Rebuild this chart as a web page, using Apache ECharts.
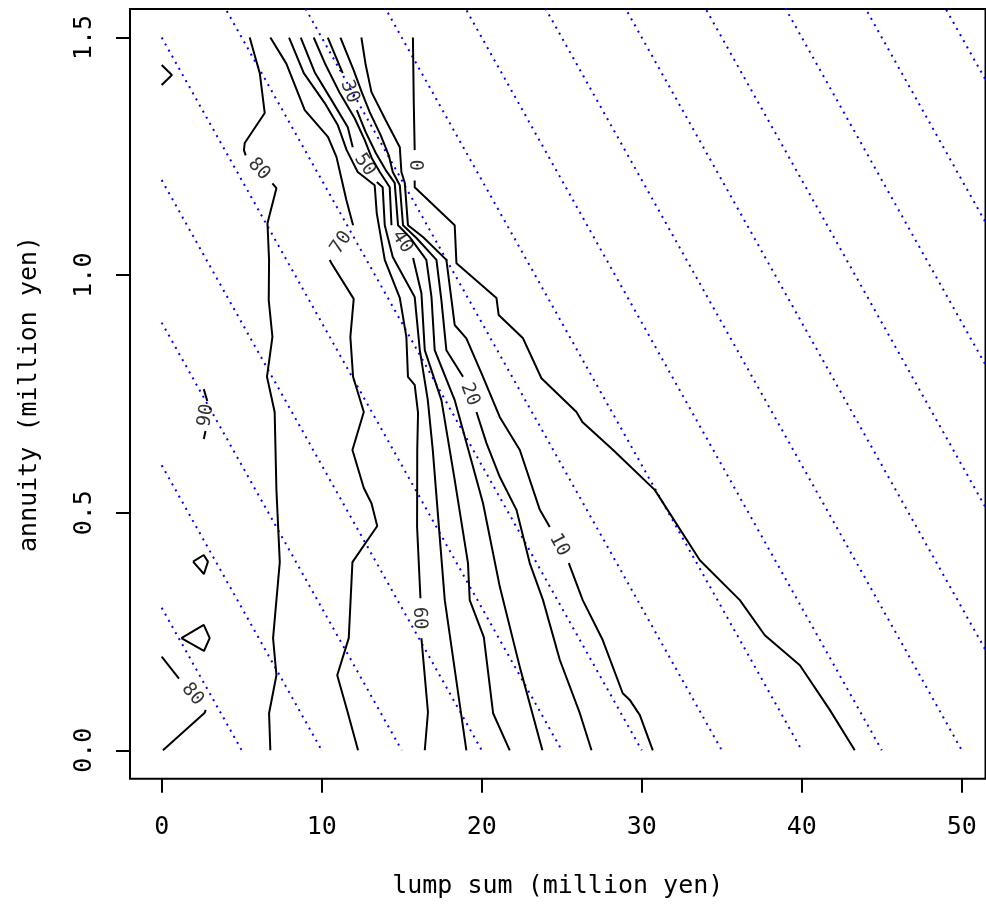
<!DOCTYPE html>
<html><head><meta charset="utf-8">
<script src="https://cdn.jsdelivr.net/npm/echarts@6/dist/echarts.min.js"></script>
<style>html,body{margin:0;padding:0;background:#fff}#c{width:986px;height:905px}</style>
</head><body><div id="c"></div>
<script>
// ---- tick labels / titles ----
const xTicks = [0, 10, 20, 30, 40, 50];
const yTicks = [0, 0.5, 1.0, 1.5];
const xTitle = 'lump sum (million yen)';
const yTitle = 'annuity (million yen)';

// ---- contour lines, each level = list of segments [x, y] ----
const contour0 = [
  [[15.7,1.50],[15.75,1.368],[15.81,1.263]],
  [[15.81,1.199],[15.81,1.185],[18.31,1.105],[18.42,1.025],[20.92,0.952],[21.06,0.916],[22.58,0.867],[23.73,0.783],[25.92,0.712],[26.29,0.691],[28.21,0.632],[30.81,0.548],[33.63,0.400],[36.13,0.316],[37.69,0.242],[39.88,0.179],[41.75,0.085],[43.31,0]]
];
const contour10 = [
  [[12.48,1.50],[12.75,1.442],[13.11,1.385],[14.0,1.326],[14.88,1.269],[14.98,1.217],[15.19,1.194],[15.39,1.105],[16.33,1.080],[17.79,1.032],[18.31,0.895],[19.04,0.867],[20.08,0.786],[21.13,0.701],[22.38,0.632],[23.63,0.506],[24.25,0.470]],
  [[25.44,0.394],[26.31,0.316],[27.56,0.232],[28.81,0.120],[29.25,0.106],[29.88,0.074],[30.69,0]]
];
const contour20 = [
  [[11.17,1.50],[12.0,1.431],[12.5,1.385],[13.0,1.343],[13.69,1.294],[14.19,1.252],[14.44,1.217],[14.88,1.189],[15.08,1.105],[15.92,1.078],[17.17,1.032],[17.48,0.947],[17.79,0.842],[18.83,0.786]],
  [[19.67,0.712],[20.29,0.647],[21.13,0.575],[22.17,0.506],[23.0,0.394],[23.83,0.316],[24.88,0.190],[26.13,0.078],[26.86,0]]
];
const contour30 = [
  [[10.38,1.50],[11.31,1.425]],
  [[12.19,1.347],[12.75,1.301],[13.38,1.257],[14.0,1.221],[14.56,1.194],[14.77,1.105],[15.5,1.080],[16.54,1.032],[16.86,0.954],[17.06,0.842],[18.31,0.737],[20.08,0.520],[21.13,0.344],[22.38,0.175],[23.79,0]]
];
const contour40 = [
  [[9.5,1.50],[10.25,1.442],[11.13,1.383],[12.06,1.330],[12.69,1.284],[13.13,1.246],[13.63,1.217],[14.25,1.185],[14.36,1.105]],
  [[15.71,1.036],[16.23,0.962],[16.44,0.842],[17.48,0.737],[18.31,0.569],[19.14,0.394],[19.25,0.316],[20.13,0.238],[20.71,0.078],[21.75,0]]
];
const contour50 = [
  [[8.69,1.50],[9.56,1.427],[10.69,1.364],[11.63,1.311],[11.94,1.269]],
  [[13.44,1.196],[13.81,1.185],[13.94,1.105],[14.44,1.038],[15.81,0.954],[16.13,0.842],[16.63,0.737],[16.94,0.632],[17.69,0.316],[19.04,0]]
];
const contour60 = [
  [[7.96,1.50],[8.88,1.425],[10.19,1.362],[11.0,1.316],[11.56,1.263],[12.25,1.217],[13.31,1.189],[13.44,1.130],[13.94,1.032],[14.88,0.952],[15.29,0.870],[15.39,0.786],[15.81,0.769],[16.02,0.710],[15.97,0.632],[15.96,0.470],[16.17,0.320]],
  [[16.23,0.236],[16.64,0.080],[16.44,0]]
];
const contour70 = [
  [[6.79,1.50],[7.79,1.445],[8.94,1.347],[10.39,1.291],[10.92,1.249],[11.54,1.158],[11.96,1.105]],
  [[10.5,1.032],[10.61,1.025],[12.0,0.950],[11.79,0.870],[11.96,0.786],[12.63,0.712],[11.92,0.632],[12.63,0.552],[13.11,0.520],[13.47,0.472],[11.92,0.396],[11.69,0.236],[10.97,0.158],[11.64,0.078],[12.27,0]]
];
const contour80 = [
  [[5.5,1.50],[6.13,1.425],[6.44,1.341],[5.19,1.278],[5.14,1.263],[5.25,1.252]],
  [[6.92,1.193],[7.17,1.183],[6.61,1.109],[6.71,1.032],[6.69,0.947],[6.92,0.870],[6.58,0.786],[7.06,0.712],[7.17,0.548],[7.38,0.396],[6.96,0.236],[7.17,0.158],[6.71,0.078],[6.79,0]],
  [[0,0.197],[1.08,0.151]],
  [[2.75,0.085],[2.69,0.079],[0.08,0]]
];
const contour90 = [
  [[0,1.442],[0.64,1.421],[0,1.400]],
  [[2.63,0.760],[2.85,0.735]],
  [[2.74,0.672],[2.63,0.655]],
  [[1.96,0.397],[2.63,0.411],[2.89,0.397],[2.64,0.371],[1.96,0.397]],
  [[1.23,0.236],[2.63,0.264],[3.0,0.236],[2.64,0.209],[1.23,0.236]]
];

// ---- contour labels ----
const labelText  = ['0', '10', '20', '30', '40', '50', '60', '70', '80', '90', '80'];
const labelX     = [15.81, 24.84, 19.25, 11.75, 15.03, 12.69, 16.1, 11.23, 6.08, 2.77, 1.92];
const labelY     = [1.231, 0.432, 0.749, 1.386, 1.070, 1.232, 0.278, 1.068, 1.223, 0.705, 0.118];
const labelAngle = [-90, -62, -69, -69, -57, -56, -88, 56, -47, 80, -50];

// ---- blue dotted reference lines (intercepts on the two axes) ----
const blueXIntercepts = [5, 10, 15, 20, 25, 30, 35, 40, 45, 50, 55, 60, 65, 70, 75];
const blueYIntercepts = [0.3, 0.6, 0.9, 1.2, 1.5, 1.8, 2.1, 2.4, 2.7, 3.0, 3.3, 3.6, 3.9, 4.2, 4.5];

const FONT = 'DejaVu Sans Mono';
const series = [];

blueXIntercepts.forEach((xi, i) => {
  series.push({
    type: 'line', silent: true, symbol: 'none', clip: true, z: 2,
    data: [[0, blueYIntercepts[i]], [xi, 0]],
    lineStyle: { color: '#0000FF', width: 2, type: [2, 5] }
  });
});

[contour0, contour10, contour20, contour30, contour40, contour50,
 contour60, contour70, contour80, contour90].forEach(level => {
  level.forEach(seg => {
    series.push({
      type: 'line', silent: true, symbol: 'none', clip: true, z: 3,
      data: seg,
      lineStyle: { color: '#000', width: 2 }
    });
  });
});

series.push({
  type: 'scatter', silent: true, symbolSize: 0, z: 4,
  data: labelText.map((t, i) => ({
    name: t, value: [labelX[i], labelY[i]],
    label: { rotate: labelAngle[i] }
  })),
  label: {
    show: true, position: 'inside', formatter: '{b}',
    fontFamily: FONT, fontSize: 19, color: '#000'
  }
});

const chart = echarts.init(document.getElementById('c'), null, { renderer: 'canvas' });
chart.setOption({
  animation: false,
  backgroundColor: '#fff',
  grid: {
    left: 130, right: 0.5, top: 9, bottom: 126.2,
    show: true, borderColor: '#000', borderWidth: 2, backgroundColor: 'transparent'
  },
  xAxis: {
    type: 'value', min: -1.98, max: 51.48,
    axisLine: { show: false, onZero: false },
    splitLine: { show: false },
    axisTick: { show: true, customValues: xTicks, length: 14, lineStyle: { color: '#000', width: 2 } },
    axisLabel: { customValues: xTicks, fontFamily: FONT, fontSize: 25, color: '#000', margin: 36 },
    name: xTitle, nameLocation: 'middle', nameGap: 95,
    nameTextStyle: { fontFamily: FONT, fontSize: 25, color: '#000' }
  },
  yAxis: {
    type: 'value', min: -0.06, max: 1.56,
    axisLine: { show: false, onZero: false },
    splitLine: { show: false },
    axisTick: { show: true, customValues: yTicks, length: 14, lineStyle: { color: '#000', width: 2 } },
    axisLabel: {
      customValues: yTicks, rotate: 90, fontFamily: FONT, fontSize: 25, color: '#000', margin: 33,
      formatter: v => v.toFixed(1)
    },
    name: yTitle, nameLocation: 'middle', nameGap: 88, nameRotate: 90,
    nameTextStyle: { fontFamily: FONT, fontSize: 25, color: '#000' }
  },
  series: series
});
</script>
</body></html>
